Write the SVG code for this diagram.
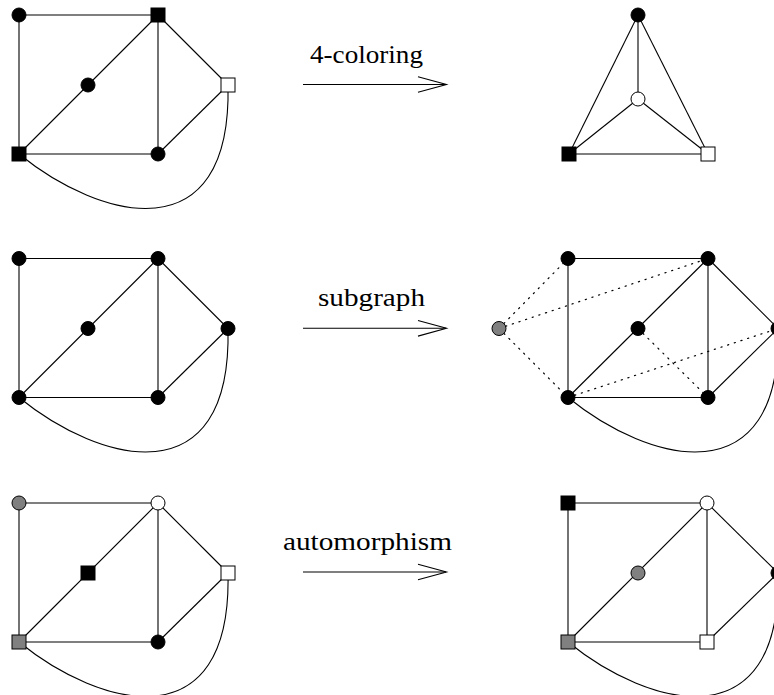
<svg xmlns="http://www.w3.org/2000/svg" width="774" height="695" viewBox="0 0 774 695">
<defs>
<style>
.e{stroke:#000;stroke-width:1.1;fill:none}
.d{stroke:#000;stroke-width:1.2;fill:none;stroke-dasharray:1.2 5.8;stroke-linecap:round}
.nb{fill:#000;stroke:#000;stroke-width:1}
.nw{fill:#fff;stroke:#000;stroke-width:1}
.ng{fill:#808080;stroke:#000;stroke-width:1}
.lbl{font-family:"Liberation Serif","Times New Roman",serif;font-size:26px;fill:#000}
.ar{stroke:#000;stroke-width:1.1;fill:none}
</style>
</defs>
<rect width="774" height="695" fill="#fff"/>

<!-- Row 1 left: colored graph -->
<g id="g1L">
<g id="g1L-edges">
<line class="e" x1="19" y1="15" x2="158" y2="15"/>
<line class="e" x1="19" y1="15" x2="19" y2="154"/>
<line class="e" x1="158" y1="15" x2="19" y2="154"/>
<line class="e" x1="158" y1="15" x2="158" y2="154"/>
<line class="e" x1="158" y1="15" x2="228" y2="85"/>
<line class="e" x1="19" y1="154" x2="158" y2="154"/>
<line class="e" x1="158" y1="154" x2="228" y2="85"/>
<path class="e" d="M19,154 C100,220 232,255 228,85"/>
</g>
<g id="g1L-TL"><circle class="nb" cx="19" cy="15" r="7"/></g>
<g id="g1L-TR"><rect class="nb" x="151" y="8" width="14" height="14"/></g>
<g id="g1L-M"><circle class="nb" cx="88" cy="85" r="7"/></g>
<g id="g1L-R"><rect class="nw" x="221" y="78" width="14" height="14"/></g>
<g id="g1L-BL"><rect class="nb" x="12" y="147" width="14" height="14"/></g>
<g id="g1L-BM"><circle class="nb" cx="158" cy="154" r="7"/></g>
</g>

<!-- Row 1 arrow -->
<g id="arrow1">
<text class="lbl" x="310" y="63" textLength="113" lengthAdjust="spacingAndGlyphs">4-coloring</text>
<line class="ar" x1="303" y1="84.5" x2="446" y2="84.5"/>
<polyline class="ar" points="418,76.7 446.5,84.5 418,92.3"/>
</g>

<!-- Row 1 right: K4 -->
<g id="g1R">
<g id="g1R-edges">
<line class="e" x1="638" y1="15" x2="569" y2="154"/>
<line class="e" x1="638" y1="15" x2="708" y2="154"/>
<line class="e" x1="638" y1="15" x2="638" y2="99"/>
<line class="e" x1="638" y1="99" x2="569" y2="154"/>
<line class="e" x1="638" y1="99" x2="708" y2="154"/>
<line class="e" x1="569" y1="154" x2="708" y2="154"/>
</g>
<g id="g1R-T"><circle class="nb" cx="638" cy="15" r="7"/></g>
<g id="g1R-C"><circle class="nw" cx="638" cy="99" r="7"/></g>
<g id="g1R-BL"><rect class="nb" x="562" y="147" width="14" height="14"/></g>
<g id="g1R-BR"><rect class="nw" x="701" y="147" width="14" height="14"/></g>
</g>

<!-- Row 2 left -->
<g id="g2L" transform="translate(0,243.5)">
<g id="g2L-edges">
<line class="e" x1="19" y1="15" x2="158" y2="15"/>
<line class="e" x1="19" y1="15" x2="19" y2="154"/>
<line class="e" x1="158" y1="15" x2="19" y2="154"/>
<line class="e" x1="158" y1="15" x2="158" y2="154"/>
<line class="e" x1="158" y1="15" x2="228" y2="85"/>
<line class="e" x1="19" y1="154" x2="158" y2="154"/>
<line class="e" x1="158" y1="154" x2="228" y2="85"/>
<path class="e" d="M19,154 C100,220 232,255 228,85"/>
</g>
<g id="g2L-TL"><circle class="nb" cx="19" cy="15" r="7"/></g>
<g id="g2L-TR"><circle class="nb" cx="158" cy="15" r="7"/></g>
<g id="g2L-M"><circle class="nb" cx="88" cy="85" r="7"/></g>
<g id="g2L-R"><circle class="nb" cx="228" cy="85" r="7"/></g>
<g id="g2L-BL"><circle class="nb" cx="19" cy="154" r="7"/></g>
<g id="g2L-BM"><circle class="nb" cx="158" cy="154" r="7"/></g>
</g>

<!-- Row 2 arrow -->
<g id="arrow2">
<text class="lbl" x="318" y="306" textLength="107" lengthAdjust="spacingAndGlyphs">subgraph</text>
<line class="ar" x1="303" y1="328.3" x2="446" y2="328.3"/>
<polyline class="ar" points="418,320.5 446.5,328.3 418,336.1"/>
</g>

<!-- Row 2 right: supergraph -->
<g id="g2R" transform="translate(549,243.5)">
<g id="g2R-edges">
<line class="e" x1="19" y1="15" x2="159" y2="15"/>
<line class="e" x1="19" y1="15" x2="19" y2="154"/>
<line class="e" x1="159" y1="15" x2="19" y2="154"/>
<line class="e" x1="159" y1="15" x2="159" y2="154"/>
<line class="e" x1="159" y1="15" x2="229" y2="85"/>
<line class="e" x1="19" y1="154" x2="159" y2="154"/>
<line class="e" x1="159" y1="154" x2="229" y2="85"/>
<path class="e" d="M19,154 C100,220 233,255 229,85"/>
<line class="d" x1="-50" y1="85" x2="19" y2="15"/>
<line class="d" x1="-50" y1="85" x2="159" y2="15"/>
<line class="d" x1="-50" y1="85" x2="19" y2="154"/>
<line class="d" x1="19" y1="154" x2="229" y2="85"/>
<line class="d" x1="89" y1="85" x2="159" y2="154"/>
</g>
<g id="g2R-G"><circle class="ng" cx="-50" cy="85" r="7"/></g>
<g id="g2R-TL"><circle class="nb" cx="19" cy="15" r="7"/></g>
<g id="g2R-TR"><circle class="nb" cx="159" cy="15" r="7"/></g>
<g id="g2R-M"><circle class="nb" cx="89" cy="85" r="7"/></g>
<g id="g2R-R"><circle class="nb" cx="229" cy="85" r="7"/></g>
<g id="g2R-BL"><circle class="nb" cx="19" cy="154" r="7"/></g>
<g id="g2R-BM"><circle class="nb" cx="159" cy="154" r="7"/></g>
</g>

<!-- Row 3 left -->
<g id="g3L" transform="translate(0,488)">
<g id="g3L-edges">
<line class="e" x1="19" y1="15" x2="158" y2="15"/>
<line class="e" x1="19" y1="15" x2="19" y2="154"/>
<line class="e" x1="158" y1="15" x2="19" y2="154"/>
<line class="e" x1="158" y1="15" x2="158" y2="154"/>
<line class="e" x1="158" y1="15" x2="228" y2="85"/>
<line class="e" x1="19" y1="154" x2="158" y2="154"/>
<line class="e" x1="158" y1="154" x2="228" y2="85"/>
<path class="e" d="M19,154 C100,220 232,255 228,85"/>
</g>
<g id="g3L-TL"><circle class="ng" cx="19" cy="15" r="7"/></g>
<g id="g3L-TR"><circle class="nw" cx="158" cy="15" r="7"/></g>
<g id="g3L-M"><rect class="nb" x="81" y="78" width="14" height="14"/></g>
<g id="g3L-R"><rect class="nw" x="221" y="78" width="14" height="14"/></g>
<g id="g3L-BL"><rect class="ng" x="12" y="147" width="14" height="14"/></g>
<g id="g3L-BM"><circle class="nb" cx="158" cy="154" r="7"/></g>
</g>

<!-- Row 3 arrow -->
<g id="arrow3">
<text class="lbl" x="283" y="550" textLength="169" lengthAdjust="spacingAndGlyphs">automorphism</text>
<line class="ar" x1="303" y1="572" x2="446" y2="572"/>
<polyline class="ar" points="418,564.2 446.5,572 418,579.8"/>
</g>

<!-- Row 3 right -->
<g id="g3R" transform="translate(549,488)">
<g id="g3R-edges">
<line class="e" x1="19" y1="15" x2="158" y2="15"/>
<line class="e" x1="19" y1="15" x2="19" y2="154"/>
<line class="e" x1="158" y1="15" x2="19" y2="154"/>
<line class="e" x1="158" y1="15" x2="158" y2="154"/>
<line class="e" x1="158" y1="15" x2="229" y2="85"/>
<line class="e" x1="19" y1="154" x2="158" y2="154"/>
<line class="e" x1="158" y1="154" x2="229" y2="85"/>
<path class="e" d="M19,154 C100,220 233,255 229,85"/>
</g>
<g id="g3R-TL"><rect class="nb" x="12" y="8" width="14" height="14"/></g>
<g id="g3R-TR"><circle class="nw" cx="158" cy="15" r="7"/></g>
<g id="g3R-M"><circle class="ng" cx="89" cy="85" r="7"/></g>
<g id="g3R-R"><circle class="nb" cx="229" cy="85" r="7"/></g>
<g id="g3R-BL"><rect class="ng" x="12" y="147" width="14" height="14"/></g>
<g id="g3R-BM"><rect class="nw" x="151" y="147" width="14" height="14"/></g>
</g>
</svg>
